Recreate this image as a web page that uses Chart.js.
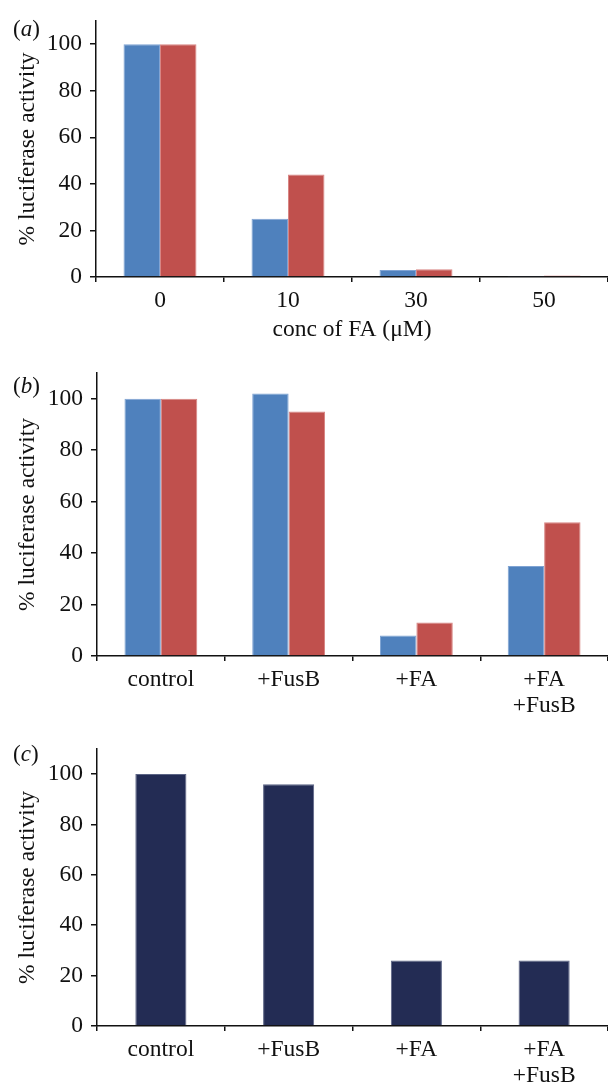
<!DOCTYPE html>
<html lang="en">
<head>
  <meta charset="UTF-8">
  <title>Luciferase activity</title>
  <script src="https://cdn.jsdelivr.net/npm/chart.js"></script>
  <style>
    body {
      margin: 0;
      background: #fff;
      font-family: 'Liberation Serif', 'DejaVu Serif', serif;
    }
    .panel {
      position: absolute;
      left: 0;
      width: 608px;
    }
    .tag {
      position: absolute;
      left: 13px;
      font-size: 23px;
      line-height: 1;
      color: #111;
    }
  </style>
</head>
<body>
  <div class="panel" style="top:0;height:345px"><canvas id="chart_a" width="608" height="345"></canvas></div>
  <div class="panel" style="top:352px;height:376px"><canvas id="chart_b" width="608" height="376"></canvas></div>
  <div class="panel" style="top:728px;height:360px"><canvas id="chart_c" width="608" height="360"></canvas></div>
  <div class="tag" style="top:17px">(<i>a</i>)</div>
  <div class="tag" style="top:374px">(<i>b</i>)</div>
  <div class="tag" style="top:742px">(<i>c</i>)</div>

  <script>
    // data
    const concLabels = ['0', '10', '30', '50'];
    const concBlue = [100, 25, 3, 0.4];
    const concRed = [100, 44, 3.3, 0.6];

    const treatLabels = ['control', '+FusB', '+FA', ['+FA', '+FusB']];
    const treatBlue = [100, 102, 8, 35];
    const treatRed = [100, 95, 13, 52];
    const treatSingle = [100, 96, 26, 26];

    const yTicks = [0, 20, 40, 60, 80, 100];
    const yMax = 110;

    const BLUE = '#4f81bd';
    const RED = '#c0504d';
    const NAVY = '#232c54';

    const font = { family: "'Liberation Serif', serif", size: 23.5, lineHeight: 1.1 };

    function makeChart(id, labels, datasets, cfg) {
      const canvas = document.getElementById(id);
      new Chart(canvas.getContext('2d'), {
        type: 'bar',
        data: { labels: labels, datasets: datasets },
        options: {
          responsive: false,
          animation: false,
          devicePixelRatio: 1,
          layout: { padding: { top: cfg.top, left: 0, right: 0, bottom: 0 } },
          plugins: { legend: { display: false }, tooltip: { enabled: false } },
          scales: {
            x: {
              offset: true,
              grid: { offset: true, drawOnChartArea: false, drawTicks: true, tickLength: 5, color: '#111', lineWidth: 1.5 },
              border: { display: true, color: '#111', width: 1.5 },
              ticks: { color: '#111', font: font, padding: 6, maxRotation: 0, autoSkip: false },
              title: {
                display: !!cfg.xTitle,
                text: cfg.xTitle || '',
                color: '#111',
                font: font,
                padding: { top: 0, bottom: 2 }
              },
              afterFit: function (s) { s.height = canvas.height - cfg.bottom; }
            },
            y: {
              min: 0,
              max: yMax,
              afterBuildTicks: function (s) { s.ticks = yTicks.map(v => ({ value: v })); },
              grid: { drawOnChartArea: false, drawTicks: true, tickLength: 6, color: '#111', lineWidth: 1.5 },
              border: { display: true, color: '#111', width: 1.5 },
              ticks: { color: '#111', font: font, padding: 8 },
              title: {
                display: true,
                text: '% luciferase activity',
                color: '#111',
                font: font,
                padding: { top: 15, bottom: 0 }
              },
              afterFit: function (s) { s.width = cfg.left; }
            }
          }
        }
      });
    }

    function pair(blue, red) {
      return [
        { data: blue, backgroundColor: BLUE, borderColor: '#7fa3d3', borderWidth: 1, categoryPercentage: 0.57, barPercentage: 1 },
        { data: red, backgroundColor: RED, borderColor: '#d88583', borderWidth: 1, categoryPercentage: 0.57, barPercentage: 1 }
      ];
    }

    // (a) dose response
    makeChart('chart_a', concLabels, pair(concBlue, concRed),
      { top: 16, bottom: 277, left: 96, xTitle: 'conc of FA (\u03bcM)' });

    // (b) two series per treatment
    makeChart('chart_b', treatLabels, pair(treatBlue, treatRed),
      { top: 18, bottom: 656 - 352, left: 97 });

    // (c) single series
    makeChart('chart_c', treatLabels, [
      { data: treatSingle, backgroundColor: NAVY, borderColor: '#5b6485', borderWidth: 1, categoryPercentage: 0.4, barPercentage: 1 }
    ], { top: 10, bottom: 1026 - 728, left: 97 });
  </script>
</body>
</html>
